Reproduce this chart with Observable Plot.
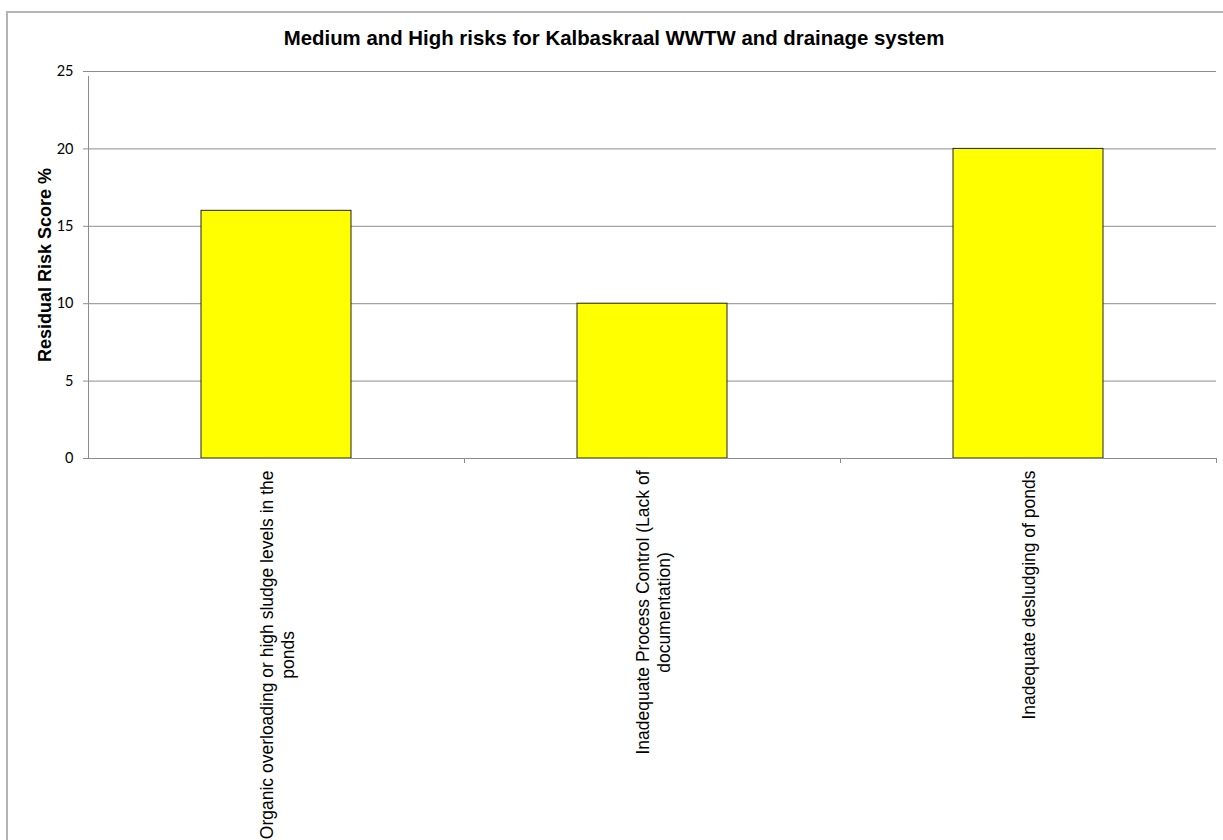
<!DOCTYPE html>
<html>
<head>
<meta charset="utf-8">
<script src="https://cdn.jsdelivr.net/npm/d3@7"></script>
<script src="https://cdn.jsdelivr.net/npm/@observablehq/plot@0.6"></script>
<style>
  html, body { margin: 0; padding: 0; background: #fff; overflow: hidden; }
  #wrap { position: relative; width: 1223px; height: 840px; overflow: hidden; }
  #frame { position: absolute; left: 6px; top: 11px; width: 1300px; height: 900px; border: 2px solid #b4b4b4; box-sizing: border-box; }
  #title { position: absolute; left: 0; width: 1228px; top: 27px; line-height: 20px; text-align: center; font: bold 20.4px "Liberation Sans", Arial, sans-serif; color: #000; }
  #chart { position: absolute; left: 0; top: 0; }
</style>
</head>
<body>
<div id="wrap">
  <div id="frame"></div>
  <div id="chart"></div>
  <div id="title">Medium and High risks for Kalbaskraal WWTW and drainage system</div>
</div>
<script>
const categories = [
  "Organic overloading or high sludge levels in the\nponds",
  "Inadequate Process Control (Lack of\ndocumentation)",
  "Inadequate desludging of ponds"
];
const values = [16, 10, 20];
const yTicks = [0, 5, 10, 15, 20, 25];
const yLabel = "Residual Risk Score %";

const data = categories.map((c, i) => ({category: c, value: values[i]}));

const W = 1223, H = 840;
const mL = 88, mR = 7, mT = 71, mB = 382;
const step = (W - mL - mR) / categories.length;

const labelSize = 17.5;
const labelFont = `${labelSize}px "Liberation Sans", Arial, sans-serif`;
const ctx = document.createElement("canvas").getContext("2d");
ctx.font = labelFont;
function blockWidth(s) { return Math.max(...s.split("\n").map(l => ctx.measureText(l).width)); }

const gray = "#8c8c8c";

const marks = [
  Plot.gridY(yTicks, {stroke: gray, strokeOpacity: 1}),
  Plot.barY(data, {x: "category", y: "value", fill: "#FFFF00", stroke: "#222", strokeWidth: 1}),
  // y axis line (left edge of the first band), extended by the tick below the axis
  Plot.ruleX([categories[0]], {x: d => d, y1: 0, y2: 25, insetBottom: -5, dx: -step / 2, stroke: gray}),
  Plot.ruleY([0], {stroke: gray}),
  // boundary ticks below the x axis
  Plot.ruleX(categories.slice(1), {x: d => d, y1: 0, y2: 0, insetBottom: -5, dx: -step / 2, stroke: gray}),
  Plot.ruleX([categories[categories.length - 1]], {x: d => d, y1: 0, y2: 0, insetBottom: -5, dx: step / 2, stroke: gray}),
  Plot.axisY(yTicks, {tickSize: 5, tickPadding: 10, stroke: gray, fill: "#000", fontSize: 14.5, fontFamily: "Lato, 'Open Sans', sans-serif", label: null}),
  Plot.text([yLabel], {frameAnchor: "left", textAnchor: "middle", dx: -43, rotate: -90, text: d => d, fontWeight: "bold", fontSize: 18, fontFamily: "'Liberation Sans', Arial, sans-serif", fill: "#000"})
];
categories.forEach(c => {
  marks.push(Plot.text([c], {
    x: d => d, frameAnchor: "bottom", text: d => d, rotate: -90,
    textAnchor: "middle", lineAnchor: "middle", lineHeight: 1.2,
    dy: 12 + blockWidth(c) / 2,
    fontSize: labelSize, fontFamily: "'Liberation Sans', Arial, sans-serif", fill: "#000"
  }));
});

const plot = Plot.plot({
  width: W, height: H,
  marginLeft: mL, marginRight: mR, marginTop: mT, marginBottom: mB,
  x: {domain: categories, paddingInner: 0.6, paddingOuter: 0.3, axis: null},
  y: {domain: [0, 25], axis: null},
  style: {background: "transparent", overflow: "visible"},
  marks
});
plot.querySelectorAll("text").forEach(t => t.setAttribute("stroke", "none"));
document.getElementById("chart").appendChild(plot);
</script>
</body>
</html>
